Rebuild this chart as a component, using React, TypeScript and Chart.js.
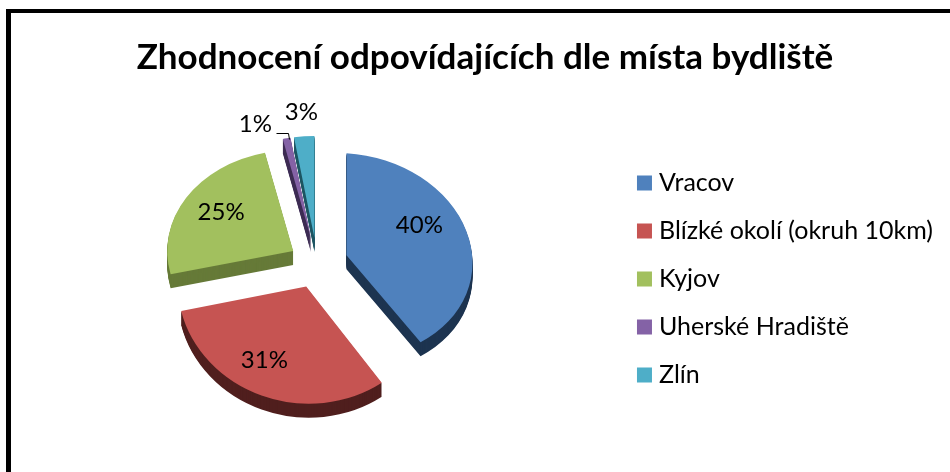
import React, { useEffect, useRef } from "react";
import { Chart, registerables } from "chart.js";

Chart.register(...registerables);

const titleText = "Zhodnocení odpovídajících dle místa bydliště";
const categories = ["Vracov", "Blízké okolí (okruh 10km)", "Kyjov", "Uherské Hradiště", "Zlín"];
const shares = [40, 31.3, 25.1, 1, 2.6];
const topColors = ["#4F81BD", "#C65452", "#A2C05E", "#8462A6", "#4EAEC8"];
const sideColors = ["#1D3450", "#501F1E", "#667A38", "#3E2D54", "#1E5663"];
const labelNudges = [[13, -14], [-20, 26], [-16, -11], [-43.5, -64], [-8, -75]];

// Perspective of the tilted pie, slice by slice: the front of the disc looks larger than the back.
const explodes = [31, 31, 28, 31, 31];
const tilts = [0.81, 0.93, 0.8, 0.81, 0.81];
const skews = [0.06, 0.02, 0, 0, 0];
const widens = [1, 1.02, 1, 1, 1];

const PIE_X = 317;
const PIE_Y = 263;
const RADIUS = 126;
const EXPLODE = 31;
const TILT = 0.81;
const DEPTH = 14;
const FONT = "Lato, Carlito, sans-serif";

const tiltPlugin = {
  id: "tilt",
  beforeDatasetsDraw(chart: any) {
    const ctx = chart.ctx;
    const arcs = chart.getDatasetMeta(0).data;
    const place = (el: any, i: number, dy: number) => {
      const mid = (el.startAngle + el.endAngle) / 2;
      ctx.translate(
        PIE_X + Math.cos(mid) * explodes[i],
        PIE_Y + Math.sin(mid) * explodes[i] * TILT + dy
      );
      ctx.transform(widens[i], skews[i], 0, tilts[i], 0, 0);
      ctx.translate(-el.x, -el.y);
    };
    for (let d = DEPTH; d >= 1; d--) {
      arcs.forEach((el: any, i: number) => {
        ctx.save();
        place(el, i, d);
        const side = Object.create(el);
        side.options = { ...el.options, backgroundColor: sideColors[i], borderWidth: 0 };
        side.draw(ctx);
        ctx.restore();
      });
    }
    arcs.forEach((el: any, i: number) => {
      ctx.save();
      place(el, i, 0);
      el.draw(ctx);
      ctx.restore();
    });
  },
  beforeDatasetDraw() {
    return false;
  },
  afterDatasetsDraw(chart: any) {
    const ctx = chart.ctx;
    const arcs = chart.getDatasetMeta(0).data;
    ctx.save();
    ctx.fillStyle = "#000";
    ctx.font = `24px ${FONT}`;
    ctx.textAlign = "center";
    ctx.textBaseline = "middle";
    arcs.forEach((el: any, i: number) => {
      const mid = (el.startAngle + el.endAngle) / 2;
      const r = EXPLODE + RADIUS / 2;
      const x = PIE_X + Math.cos(mid) * r + labelNudges[i][0];
      const y = PIE_Y + Math.sin(mid) * r * TILT + labelNudges[i][1];
      ctx.fillText(`${Math.round(shares[i])}%`, x, y);
    });
    const thin = arcs[3];
    const mid = (thin.startAngle + thin.endAngle) / 2;
    const reach = EXPLODE + RADIUS;
    const ex = Math.round(PIE_X + Math.cos(mid) * reach) + 0.5;
    const ey = Math.round(PIE_Y + Math.sin(mid) * reach * TILT) + 0.5;
    ctx.strokeStyle = "#000";
    ctx.lineWidth = 1;
    ctx.beginPath();
    ctx.moveTo(ex + 2, ey + 1);
    ctx.lineTo(ex + 1, ey - 5);
    ctx.lineTo(ex - 11, ey - 5);
    ctx.stroke();
    ctx.restore();
  },
};

export default function App() {
  const ref = useRef<HTMLCanvasElement>(null);
  useEffect(() => {
    const chart = new Chart(ref.current!, {
      type: "pie",
      plugins: [tiltPlugin],
      data: {
        labels: categories,
        datasets: [
          {
            data: shares,
            backgroundColor: topColors,
            borderWidth: 0,
          } as any,
        ],
      },
      options: {
        responsive: false,
        animation: false,
        radius: RADIUS,
        layout: { padding: { left: 27, right: 7, top: 37, bottom: 3 } },
        plugins: {
          title: {
            display: true,
            text: titleText,
            color: "#000",
            font: { family: FONT, size: 35, weight: "bold" },
            padding: { top: 0, bottom: 10 },
          },
          legend: {
            position: "right",
            fullSize: false,
            labels: {
              usePointStyle: true,
              pointStyle: "rect",
              boxWidth: 4,
              boxHeight: 15,
              color: "#000",
              font: { family: FONT, size: 25 },
              padding: 23,
            },
          },
          tooltip: { enabled: false },
        },
      } as any,
    });
    return () => chart.destroy();
  }, []);
  return (
    <div style={{ position: "fixed", left: 0, top: 0, width: 950, height: 472, background: "#fff" }}>
      <canvas ref={ref} width={950} height={472} style={{ display: "block" }} />
      <div
        style={{
          position: "absolute",
          left: 6,
          top: 9,
          width: 944,
          height: 463,
          boxSizing: "border-box",
          borderLeft: "5px solid #000",
          borderTop: "4px solid #000",
        }}
      />
    </div>
  );
}
